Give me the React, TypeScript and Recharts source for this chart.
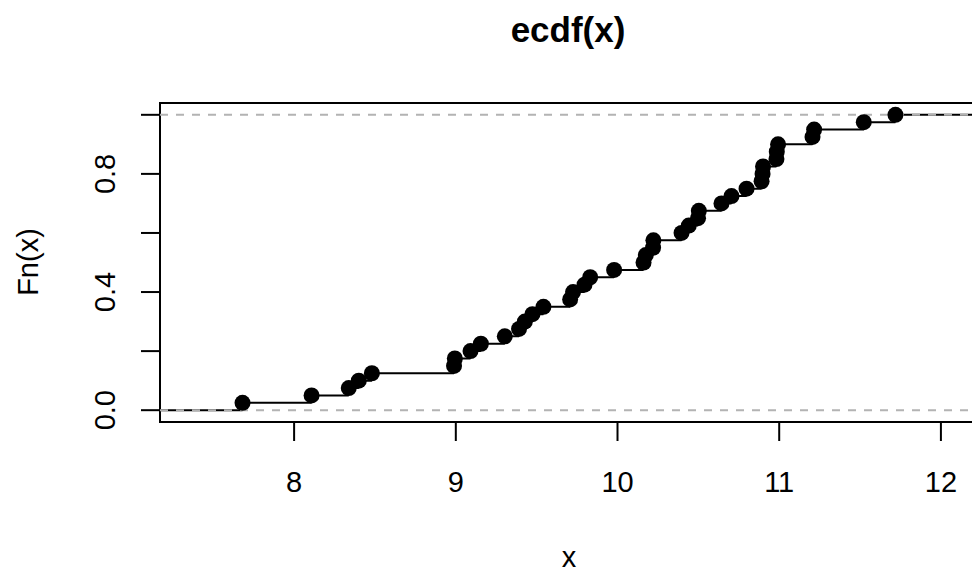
import React from 'react';
import { ComposedChart, Line, Scatter, XAxis, YAxis, ReferenceLine, ReferenceArea } from 'recharts';

const xValues = [
  7.681, 8.108, 8.338, 8.4, 8.481, 8.989, 8.994, 9.091, 9.155, 9.303,
  9.391, 9.427, 9.474, 9.542, 9.707, 9.725, 9.796, 9.831, 9.979, 10.161,
  10.175, 10.22, 10.222, 10.396, 10.441, 10.498, 10.503, 10.643, 10.705, 10.798,
  10.891, 10.897, 10.9, 10.983, 10.985, 10.993, 11.206, 11.216, 11.523, 11.719,
];
const fnValues = [
  0.025, 0.05, 0.075, 0.1, 0.125, 0.15, 0.175, 0.2, 0.225, 0.25,
  0.275, 0.3, 0.325, 0.35, 0.375, 0.4, 0.425, 0.45, 0.475, 0.5,
  0.525, 0.55, 0.575, 0.6, 0.625, 0.65, 0.675, 0.7, 0.725, 0.75,
  0.775, 0.8, 0.825, 0.85, 0.875, 0.9, 0.925, 0.95, 0.975, 1,
];
const xTicks = [8, 9, 10, 11, 12];
const yTicks = [0, 0.2, 0.4, 0.6, 0.8, 1];
const yTickLabels = ['0.0', '', '0.4', '', '0.8', ''];

const FONT = '"Liberation Sans", Arial, Helvetica, sans-serif';

// xlim like plot.stepfun: extend by 8% of the range, then the usual 4% axis padding
const lo = xValues[0];
const hi = xValues[xValues.length - 1];
const ext = 0.08 * (hi - lo);
const pad = 0.04 * (hi - lo + 2 * ext);
const xMin = lo - ext - pad;
const xMax = hi + ext + pad;
const yMin = -0.04;
const yMax = 1.04;

const points = xValues.map((x, i) => ({ x, y: fnValues[i] }));

// horizontal pieces of the step function, separated by null gaps
const stepData: { x: number; y: number | null }[] = [];
const starts = [xMin, ...xValues];
const levels = [0, ...fnValues];
starts.forEach((x, i) => {
  const end = i < xValues.length ? xValues[i] : xMax;
  stepData.push({ x, y: levels[i] });
  stepData.push({ x: end, y: levels[i] });
  stepData.push({ x: end, y: null });
});

const YTick = (props: any) => {
  const { x, y, payload } = props;
  const idx = yTicks.indexOf(payload.value);
  const label = idx >= 0 ? yTickLabels[idx] : '';
  if (!label) return null;
  return (
    <text x={x} y={y} transform={`rotate(-90, ${x}, ${y})`} textAnchor="middle"
      fontFamily={FONT} fontSize={29} fill="#000">
      {label}
    </text>
  );
};

const Dot = (props: any) => <circle cx={props.cx} cy={props.cy} r={8} fill="#000" />;

export default function App() {
  return (
    <div style={{ position: 'absolute', left: 0, top: 0, width: 972, height: 573, overflow: 'hidden', background: '#fff' }}>
      <ComposedChart width={990} height={573} margin={{ top: 103, right: 12, bottom: 91, left: 0 }}>
        <XAxis type="number" dataKey="x" domain={[xMin, xMax]} ticks={xTicks} allowDataOverflow
          tickSize={19} tickMargin={30} height={60}
          axisLine={false} tickLine={{ stroke: '#000', strokeWidth: 2 }}
          tick={{ fill: '#000', fontSize: 29, fontFamily: FONT }} />
        <YAxis type="number" dataKey="y" domain={[yMin, yMax]} ticks={yTicks} allowDataOverflow
          width={160} tickSize={19} tickMargin={26}
          axisLine={false} tickLine={{ stroke: '#000', strokeWidth: 2 }} tick={<YTick />} />
        <ReferenceArea x1={xMin} x2={xMax} y1={yMin} y2={yMax} fill="none" stroke="#000" strokeWidth={2} />
        <Line data={stepData} dataKey="y" type="linear" stroke="#000" strokeWidth={2}
          dot={false} activeDot={false} isAnimationActive={false} />
        <Scatter data={points} dataKey="y" shape={<Dot />} isAnimationActive={false} />
        <ReferenceLine y={0} stroke="#b3b3b3" strokeWidth={2} strokeDasharray="8 8" />
        <ReferenceLine y={1} stroke="#b3b3b3" strokeWidth={2} strokeDasharray="8 8" />
      </ComposedChart>
      <svg width={972} height={573} style={{ position: 'absolute', left: 0, top: 0, pointerEvents: 'none' }}>
        <text x={568} y={42} textAnchor="middle" fontFamily={FONT} fontSize={35} fontWeight="bold" fill="#000">
          ecdf(x)
        </text>
        <text x={569} y={567} textAnchor="middle" fontFamily={FONT} fontSize={29} fill="#000">
          x
        </text>
        <text x={38} y={262} transform="rotate(-90, 38, 262)" textAnchor="middle" fontFamily={FONT} fontSize={29} fill="#000">
          Fn(x)
        </text>
      </svg>
    </div>
  );
}
